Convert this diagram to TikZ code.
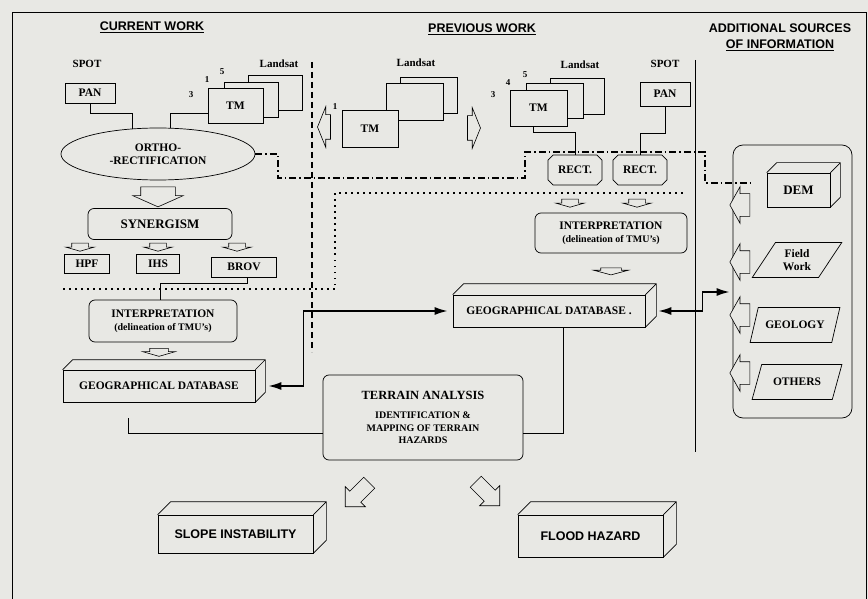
\documentclass[tikz,border=0pt]{standalone}
\usepackage{fontspec}
\setmainfont{Liberation Serif}
\newfontfamily\headfont{Liberation Sans}
\usepackage{tikz}
\usetikzlibrary{shapes.geometric}
\usetikzlibrary{shapes.misc,shapes.arrows}
\usetikzlibrary{arrows.meta}
\usetikzlibrary{positioning}
\definecolor{paper}{RGB}{232,232,228}

% top and side faces of a box node
\newcommand\cuboid[2]{%
  \draw[line width=0.7pt] (#1.north west) -- ++(#2,-#2) -| ([shift={(#2,-#2)}]#1.south east) -- (#1.south east)
    (#1.north east) -- ++(#2,-#2);}

\begin{document}
\begin{tikzpicture}[x=1pt,y=-1pt,
  every node/.style={font=\bfseries\fontsize{11.5}{13}\selectfont,inner sep=1pt},
  head/.style={align=center,font=\headfont\bfseries\fontsize{12.5}{16}\selectfont},
  lbl/.style={font=\bfseries\fontsize{11}{12}\selectfont},
  num/.style={font=\bfseries\fontsize{9}{10}\selectfont},
  box/.style={draw,fill=paper,line width=0.7pt,align=center},
  rbox/.style={draw,fill=paper,line width=0.7pt,rounded corners=6pt,align=center},
  slab/.style={draw,fill=paper,line width=0.7pt,align=center},
  rectnode/.style={draw,fill=paper,line width=0.7pt,chamfered rectangle,chamfered rectangle xsep=2pt,
    minimum width=54,minimum height=30},
  para/.style={draw,fill=paper,line width=0.7pt,align=center,trapezium,trapezium left angle=55,
    trapezium right angle=125,trapezium stretches=true,minimum width=90,minimum height=35},
  fat/.style={single arrow,draw,fill=paper,inner xsep=0pt,line width=0.6pt},
  flat/.style={fat,rotate=-90,minimum height=8,minimum width=28,inner ysep=8pt,
    single arrow head extend=6pt,single arrow tip angle=148},
  srcarrow/.style={fat,rotate=180,minimum height=20,minimum width=36,inner ysep=11pt,
    single arrow head extend=7pt,single arrow tip angle=122},
  link/.style={line width=0.7pt},
  sepline/.style={line width=1.6pt,dash pattern=on 6pt off 4pt},
  chainline/.style={line width=1.2pt,dash pattern=on 7pt off 3pt on 1.5pt off 3pt},
  dotline/.style={line width=1.5pt,dash pattern=on 1.5pt off 4.5pt},
  dbl/.style={line width=1.6pt,{Latex[length=13pt,width=8pt]}-{Latex[length=13pt,width=8pt]}}
]
\useasboundingbox (0,0) rectangle (868,599);
\fill[paper] (0,0) rectangle (868,599);
\draw[line width=0.8pt] (12,599) -- (12,12) -- (866,12) -- (866,599);

% headings
\node[head] (hcur) at (152,27) {\underline{CURRENT WORK}};
\node[head] (hprev) at (482,29) {\underline{PREVIOUS WORK}};
\node[head] (hadd) at (780,37) {ADDITIONAL SOURCES\\\underline{OF INFORMATION}};

% separators
\draw[sepline] (312,62) -- (312,352);
\draw[line width=0.7pt] (695,60) -- (695,452);
\draw[dotline] (63,289) -- (335,289) -- (335,193) -- (683,193);

% current work
\node[lbl] (spot1) at (87,64) {SPOT};
\node[box,minimum width=50,minimum height=20] (pan1) at (90,93) {PAN};
\node[lbl] (ls1) at (279,64) {Landsat};
\node[box,minimum width=54,minimum height=35] (tmc3) at (275,92.5) {};
\node[box,minimum width=54,minimum height=35] (tmc2) at (251,99.5) {};
\node[box,minimum width=55,minimum height=35] (tmc1) at (235.5,105.5) {TM};
\node[num] (n1a) at (207,80) {1};
\node[num] (n5a) at (222,72) {5};
\node[num] (n3a) at (191,95) {3};

\node[draw,fill=paper,line width=0.7pt,ellipse,align=center,minimum width=194,minimum height=52,inner sep=0pt] (ortho) at (158,154) {ORTHO-\\-RECTIFICATION};
\draw[link] (pan1.south) -- ++(0,10) -| (ortho.135);
\draw[link] ([yshift=-7.5pt]tmc1.west) -| (ortho.65);

\node[fat,rotate=-90,minimum height=20,minimum width=50,inner ysep=17pt,single arrow head extend=8pt,single arrow tip angle=132] (a1) at (158,193) {};
\node[rbox,minimum width=144,minimum height=31,font=\bfseries\fontsize{13}{14}\selectfont] (syn) at (160,224) {SYNERGISM};

\node[flat] (a2) at (80,246) {};
\node[flat] (a3) at (158,246) {};
\node[flat] (a4) at (237,246) {};
\node[box,minimum width=45,minimum height=19] (hpf) at (87,264) {HPF};
\node[box,minimum width=43,minimum height=19] (ihs) at (158,264) {IHS};
\node[box,minimum width=65,minimum height=20] (brov) at (244,267) {BROV};

\node[rbox,minimum width=148,minimum height=42] (interp1) at (163,321) {INTERPRETATION\\{\fontsize{10}{12}\selectfont (delineation of TMU's)}};
\draw[link] ([xshift=3pt]brov.south) -- ++(0,6) -| ([xshift=-3pt]interp1.north);
\node[fat,rotate=-90,minimum height=8,minimum width=32,inner ysep=9pt,single arrow head extend=7pt,single arrow tip angle=148] (a5) at (159,351) {};
\node[slab,minimum width=192,minimum height=32] (gdb1) at (159,386) {GEOGRAPHICAL DATABASE};
\cuboid{gdb1}{10}

% previous work
\node[lbl] (ls2) at (416,63) {Landsat};
\node[box,minimum width=57,minimum height=36] (tmm3) at (428.5,95) {};
\node[box,minimum width=57,minimum height=37] (tmm2) at (414.5,101.5) {};
\node[box,minimum width=56,minimum height=37] (tmm1) at (370,128.5) {TM};
\node[num] (n1b) at (335,107) {1};
\node[fat,rotate=180,minimum height=13,minimum width=40,inner ysep=12pt,single arrow head extend=8pt,single arrow tip angle=136] (toleft) at (326.5,127) {};
\node[fat,minimum height=13,minimum width=40,inner ysep=12pt,single arrow head extend=8pt,single arrow tip angle=136] (toright) at (471.5,128) {};

\node[lbl] (ls3) at (580,65) {Landsat};
\node[box,minimum width=54,minimum height=36] (tmp3) at (577,96) {};
\node[box,minimum width=57,minimum height=35] (tmp2) at (554.5,100.5) {};
\node[box,minimum width=57,minimum height=36] (tmp1) at (538.5,108) {TM};
\node[num] (n3b) at (493,95) {3};
\node[num] (n4b) at (508,83) {4};
\node[num] (n5b) at (525,75) {5};
\node[lbl] (spot2) at (665,64) {SPOT};
\node[box,minimum width=50,minimum height=24] (pan2) at (665,94) {PAN};

\node[rectnode] (rect1) at (575,170) {RECT.};
\node[rectnode] (rect2) at (640,170) {RECT.};
\draw[link] ([xshift=-5.5pt]tmp1.south) -- ++(0,6) -| (rect1.north);
\draw[link] (pan2.south) -- ++(0,27) -| (rect2.north);

\node[flat] (a6) at (570,202) {};
\node[flat] (a7) at (637,202) {};
\node[rbox,minimum width=152,minimum height=40] (interp2) at (611,233) {INTERPRETATION\\{\fontsize{10}{12}\selectfont (delineation of TMU's)}};
\node[fat,rotate=-90,minimum height=7,minimum width=34,inner ysep=10pt,single arrow head extend=7pt,single arrow tip angle=150] (a8) at (611,270) {};
\node[slab,minimum width=192,minimum height=32] (gdb2) at (549,311) {GEOGRAPHICAL DATABASE .};
\cuboid{gdb2}{11}

% chain line from ortho-rectification to DEM
\coordinate (demtail) at (753,183);
\draw[chainline] (ortho.east) -- (278,154) -- (278,178) -- (525,178) -- (525,152) -- (705,152) -- (705,183) -- (demtail);

% additional sources
\node[rbox,rounded corners=10pt,fill=none,minimum width=119,minimum height=273] (src) at (792.5,281.5) {};
\node[slab,minimum width=63,minimum height=34,font=\bfseries\fontsize{13}{14}\selectfont] (dem) at (798.5,190) {DEM};
\cuboid{dem}{10}
\node[para] (field) at (797,260) {Field\\Work};
\node[para] (geol) at (795,325) {GEOLOGY};
\node[para] (others) at (797,382) {OTHERS};
\node[srcarrow] (b1) at (743,205) {};
\node[srcarrow] (b2) at (743,262) {};
\node[srcarrow] (b3) at (743,315) {};
\node[srcarrow] (b4) at (743,373) {};

% terrain analysis
\node[rbox,minimum width=200,minimum height=85,font=\bfseries\fontsize{10}{12.5}\selectfont] (terrain) at (423,417.5)
  {{\fontsize{12.5}{14}\selectfont TERRAIN ANALYSIS}\\[7pt]IDENTIFICATION \&\\MAPPING OF TERRAIN\\HAZARDS};
\coordinate (g1tail) at (128,418);
\draw[link] (g1tail) |- ([yshift=-15.5pt]terrain.west);
\draw[link] ([yshift=-15.5pt]terrain.east) -| ([xshift=14pt]gdb2.south);

\draw[dbl] ([xshift=13pt]gdb1.east) -- ++(35,0) |- ([xshift=-5pt]gdb2.west);
\draw[dbl] ([xshift=13pt]gdb2.east) -- ++(44,0) |- ([xshift=-3pt,yshift=-10.5pt]src.west);

% results
\node[fat,rotate=225,minimum height=34,minimum width=28,inner ysep=7.5pt,single arrow head extend=6.5pt] (a9) at (360,492) {};
\node[fat,rotate=-45,minimum height=34,minimum width=28,inner ysep=7.5pt,single arrow head extend=6.5pt] (a10) at (485,491) {};
\node[slab,minimum width=155,minimum height=38,font=\headfont\bfseries\fontsize{12.5}{14}\selectfont] (slope) at (235.5,534) {SLOPE INSTABILITY};
\cuboid{slope}{13}
\node[slab,minimum width=145,minimum height=42,font=\headfont\bfseries\fontsize{12.5}{14}\selectfont] (flood) at (590.5,536) {FLOOD HAZARD};
\cuboid{flood}{13}
\end{tikzpicture}
\end{document}
